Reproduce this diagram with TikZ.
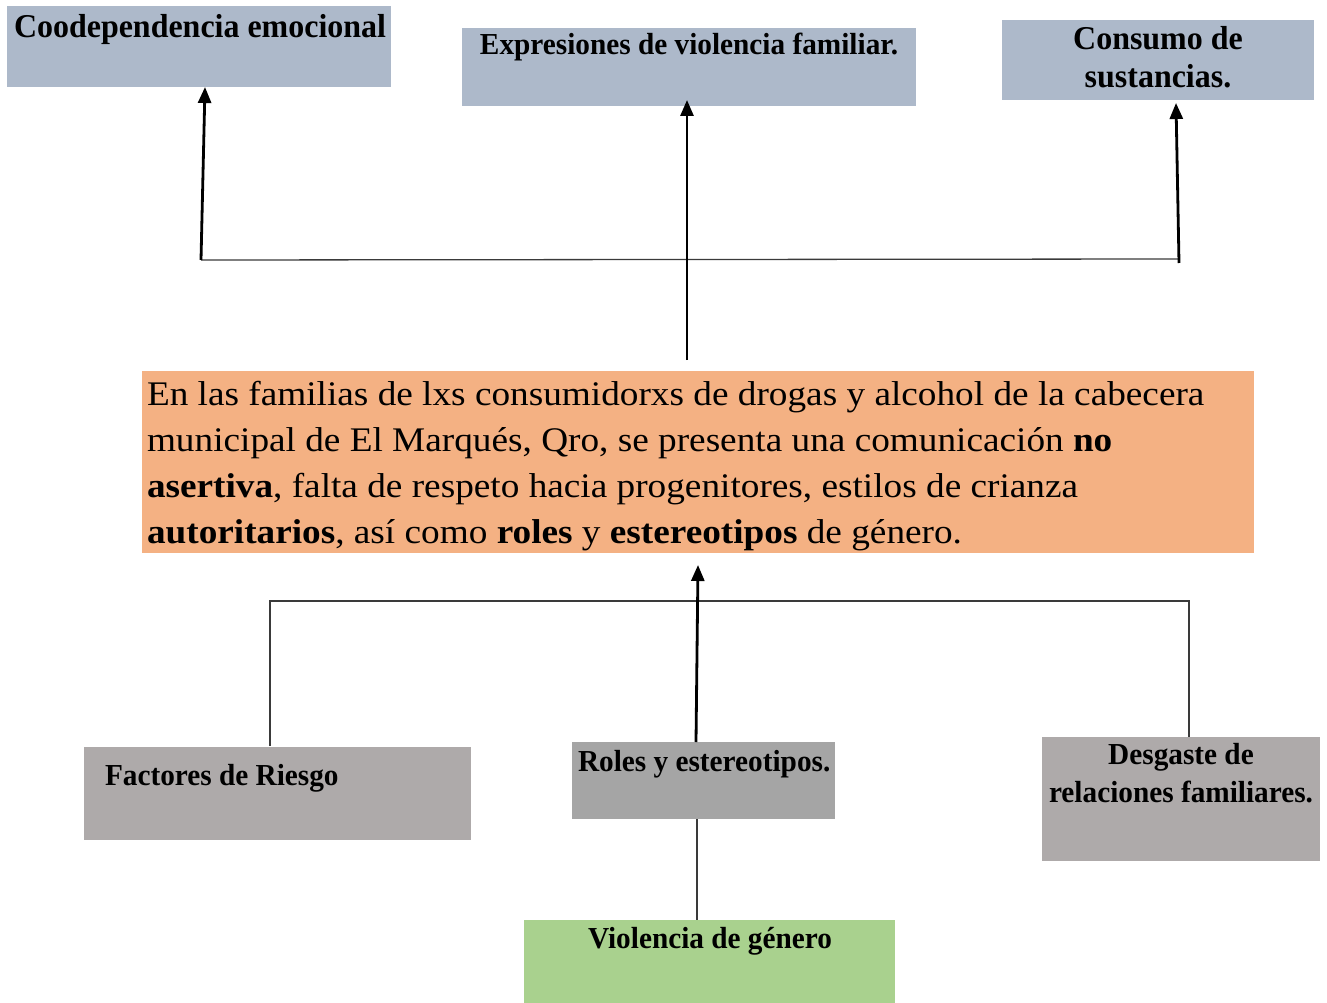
\documentclass[tikz,border=0pt]{standalone}
\usepackage{fontspec}
\setmainfont{Liberation Serif}[FakeStretch=1.08]
\newfontfamily\lblfont{Liberation Serif}[FakeStretch=0.96]
\usetikzlibrary{arrows.meta}
\definecolor{blueg}{HTML}{ADB9CA}
\definecolor{orng}{HTML}{F4B183}
\definecolor{grayb}{HTML}{AEAAAA}
\definecolor{grayr}{HTML}{A5A5A5}
\definecolor{grn}{HTML}{A9D18E}
\definecolor{linec}{HTML}{3A3A3A}
\begin{document}
\begin{tikzpicture}[x=1pt,y=-1pt,
  box/.style={draw=none, inner sep=0pt, outer sep=0pt, anchor=north west},
  lbl/.style={inner sep=0pt, outer sep=0pt, font=\lblfont\fontsize{30.5}{38}\selectfont\bfseries},
  biglbl/.style={inner sep=0pt, outer sep=0pt, font=\lblfont\fontsize{33.3}{38}\selectfont\bfseries},
  maintext/.style={inner sep=0pt, outer sep=0pt, align=left, font=\fontsize{34.5}{46}\selectfont},
  arr/.style={line width=2.8pt, draw=black, -{Triangle[width=13pt,length=16pt]}},
  thinl/.style={line width=1.3pt, draw=linec}
]
\useasboundingbox (0,0) rectangle (1327,1003);

% boxes
\node[box, fill=blueg, minimum width=384pt, minimum height=81pt] (coo) at (7,6) {};
\node[box, fill=blueg, minimum width=454pt, minimum height=78pt] (exp) at (462,28) {};
\node[box, fill=blueg, minimum width=312pt, minimum height=80pt] (con) at (1002,20) {};
\node[box, fill=orng, minimum width=1112pt, minimum height=182pt] (main) at (142,371) {};
\node[box, fill=grayb, minimum width=387pt, minimum height=93pt] (fac) at (84,747) {};
\node[box, fill=grayr, minimum width=263pt, minimum height=77pt] (rol) at (572,742) {};
\node[box, fill=grayb, minimum width=278pt, minimum height=124pt] (des) at (1042,737) {};
\node[box, fill=grn, minimum width=371pt, minimum height=90pt] (vio) at (524,920) {};

% texts (base anchor of a multi-line node = last baseline)
\node[biglbl, anchor=base west] (cooT) at (14,38) {Coodependencia emocional};
\node[lbl, anchor=base] (expT) at (689,55) {Expresiones de violencia familiar.};
\node[biglbl, anchor=base, align=center] (conT) at (1158,88) {Consumo de\\sustancias.};
\node[maintext, anchor=base west] (mainT) at (147,543) {En las familias de lxs consumidorxs de drogas y alcohol de la cabecera\\
municipal de El Marqués, Qro, se presenta una comunicación \textbf{no}\\
\textbf{asertiva}, falta de respeto hacia progenitores, estilos de crianza\\
\textbf{autoritarios}, así como \textbf{roles} y \textbf{estereotipos} de género.};
\node[lbl, anchor=base west] (facT) at (105,785) {Factores de Riesgo};
\node[lbl, anchor=base west] (rolT) at (578,771) {Roles y estereotipos.};
\node[lbl, anchor=base, align=center] (desT) at (1181,802) {Desgaste de\\relaciones familiares.};
\node[lbl, anchor=base] (vioT) at (710,948) {Violencia de género};

% connector points
\coordinate (hl) at (201,260);
\coordinate (hr) at (1178,259);
\coordinate (cooIn) at (205,87);
\coordinate (mainOut) at (687,360);
\coordinate (expIn) at (687,100);
\coordinate (conOut) at (1179,263);
\coordinate (conIn) at (1176,103);
\coordinate (bl) at (270,601);
\coordinate (br) at (1189,601);
\coordinate (facTop) at (270,746);
\coordinate (desTop) at (1189,737);
\coordinate (rolTop) at (696,742);
\coordinate (mainIn) at (698,565);
\coordinate (rolBot) at (697,819);
\coordinate (vioTop) at (697,920);

% connectors
\draw[thinl] (hl) -- (hr);
\draw[arr] (hl) -- (cooIn);
\draw[arr] (mainOut) -- (expIn);
\draw[arr] (conOut) -- (conIn);
\draw[thinl] (facTop) -- (bl) -- (br) -- (desTop);
\draw[arr] (rolTop) -- (mainIn);
\draw[thinl] (rolBot) -- (vioTop);
\end{tikzpicture}
\end{document}
